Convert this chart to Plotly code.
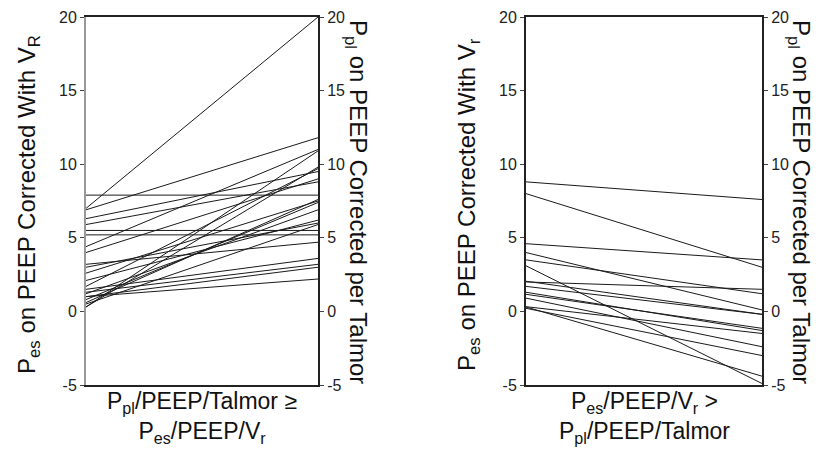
import plotly.graph_objects as go

# Left panel: Pes/PEEP/Vr (left axis) -> Ppl/PEEP/Talmor (right axis)
left_start = [7.0, 7.9, 6.9, 6.3, 5.9, 5.5, 5.2, 4.4, 4.0, 3.2, 3.0, 2.6, 2.1, 1.7,
              1.5, 1.3, 1.0, 1.0, 0.6, 0.3, 0.3, 0.8, 1.2, 0.5]
left_end = [20.0, 7.9, 11.8, 9.5, 8.8, 5.5, 5.2, 11.0, 9.0, 4.7, 6.0, 7.5, 6.2, 9.7,
            3.6, 3.2, 3.0, 2.2, 7.6, 9.8, 10.9, 7.4, 6.9, 5.9]

# Right panel
right_start = [8.8, 8.0, 4.6, 4.0, 3.5, 3.1, 2.0, 2.05, 1.7, 1.3, 1.16, 0.9, 0.32, 0.21, 0.3]
right_end = [7.6, 3.0, 3.5, 0.1, 1.2, -4.9, 1.5, -0.2, -0.2, -1.3, -1.15, -2.4, -1.5, -3.0, -4.4]

ticks = [-5, 0, 5, 10, 15, 20]
tick_labels = ["-5", "0", "5", "10", "15", "20"]

FONT = "Liberation Sans, Arial, sans-serif"
# page body has an 8px margin; figure drawn at (8, 8)
OFF = 8
W, H = 824 - OFF, 449 - OFF

def px(x):
    return (x - OFF) / W

def py(y):
    return 1 - (y - OFF) / H

fig = go.Figure()

for s, e in zip(left_start, left_end):
    fig.add_trace(go.Scatter(x=[0, 1], y=[s, e], mode="lines",
                             line=dict(color="#1a1a1a", width=1),
                             xaxis="x", yaxis="y", showlegend=False, hoverinfo="skip"))
for s, e in zip(right_start, right_end):
    fig.add_trace(go.Scatter(x=[0, 1], y=[s, e], mode="lines",
                             line=dict(color="#1a1a1a", width=1),
                             xaxis="x2", yaxis="y3", showlegend=False, hoverinfo="skip"))
# dummy traces for right axes
fig.add_trace(go.Scatter(x=[0], y=[0], mode="markers", marker=dict(opacity=0),
                         xaxis="x", yaxis="y2", showlegend=False, hoverinfo="skip"))
fig.add_trace(go.Scatter(x=[0], y=[0], mode="markers", marker=dict(opacity=0),
                         xaxis="x2", yaxis="y4", showlegend=False, hoverinfo="skip"))

dom1 = [px(86), px(318)]
dom2 = [px(526), px(762)]
ydom = [py(385), py(17)]

def xax(dom, anchor):
    return dict(domain=dom, range=[0, 1], showgrid=False, zeroline=False,
                showticklabels=False, ticks="", showline=True, mirror=True,
                linecolor="#222", linewidth=2, anchor=anchor, fixedrange=True,
                automargin=False)

def yax(anchor, side, linecolor, overlay=None):
    d = dict(domain=ydom, range=[-5, 20], tickvals=ticks, ticktext=tick_labels,
             showgrid=False, zeroline=False, ticks="outside", ticklen=4,
             tickcolor="#444", tickwidth=1, showline=True, linecolor=linecolor,
             linewidth=2, side=side, anchor=anchor, fixedrange=True,
             automargin=False,
             tickfont=dict(family=FONT, size=16, color="#222"))
    if overlay:
        d["overlaying"] = overlay
    return d

fig.update_layout(
    width=W, height=H,
    margin=dict(l=0, r=0, t=0, b=0, autoexpand=False),
    paper_bgcolor="white", plot_bgcolor="white",
    xaxis=xax(dom1, "y"),
    xaxis2=xax(dom2, "y3"),
    yaxis=yax("x", "left", "#999"),
    yaxis2=yax("x", "right", "#222", overlay="y"),
    yaxis3=yax("x2", "left", "#222"),
    yaxis4=yax("x2", "right", "#222", overlay="y3"),
)

tfont = dict(family=FONT, size=24, color="#111")
xfont = dict(family=FONT, size=23, color="#111")
ann = [
    dict(x=px(28), y=py(205), text="P<sub>es</sub> on PEEP Corrected With V<sub>R</sub>", textangle=-90, font=tfont),
    dict(x=px(357), y=py(202), text="P<sub>pl</sub> on PEEP Corrected per Talmor", textangle=90, font=tfont),
    dict(x=px(468), y=py(205), text="P<sub>es</sub> on PEEP Corrected With V<sub>r</sub>", textangle=-90, font=tfont),
    dict(x=px(800), y=py(202), text="P<sub>pl</sub> on PEEP Corrected per Talmor", textangle=90, font=tfont),
    dict(x=px(202), y=py(417), text="P<sub>pl</sub>/PEEP/Talmor ≥<br>P<sub>es</sub>/PEEP/V<sub>r</sub>", font=xfont),
    dict(x=px(644), y=py(417), text="P<sub>es</sub>/PEEP/V<sub>r</sub> ><br>P<sub>pl</sub>/PEEP/Talmor", font=xfont),
]
for a in ann:
    a.update(xref="paper", yref="paper", showarrow=False,
             xanchor="center", yanchor="middle")
fig.update_layout(annotations=ann)

fig.write_html("out.html")
